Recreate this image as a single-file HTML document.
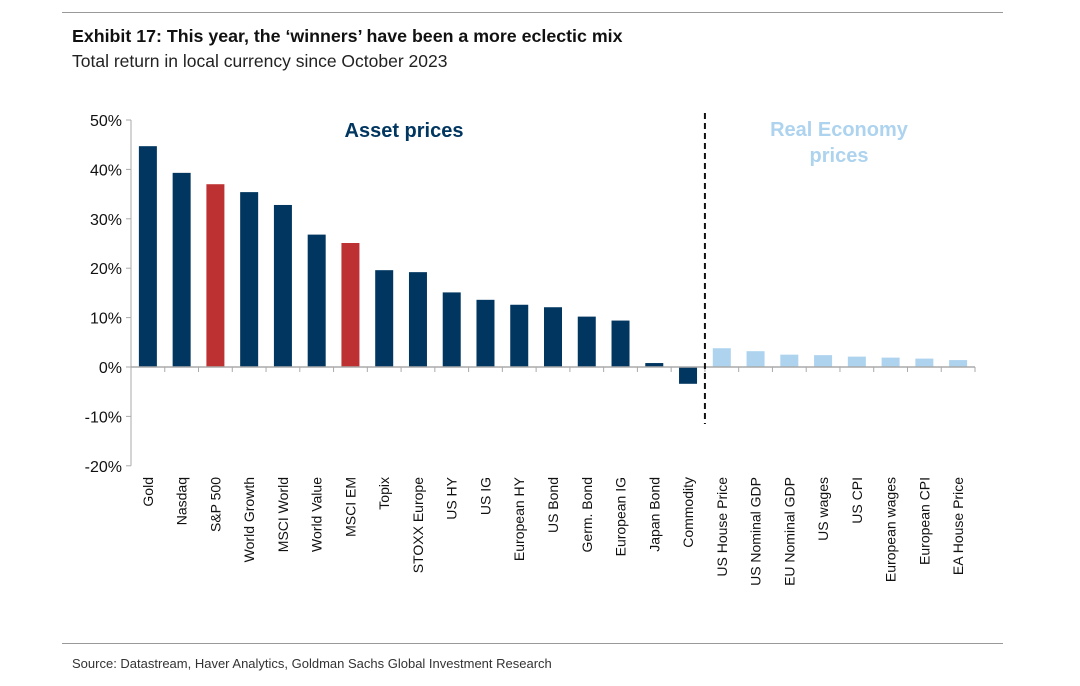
<!DOCTYPE html>
<html><head><meta charset="utf-8"><style>
body{margin:0;background:#fff;font-family:"Liberation Sans",Arial,sans-serif;}
#wrap{position:relative;width:1080px;height:686px;overflow:hidden;}
.t{position:absolute;white-space:nowrap;}
</style></head><body>
<div id="wrap">
<div class="t" style="left:62px;top:12px;width:941px;height:1px;background:#999;"></div>
<div class="t" style="left:72px;top:26px;font-size:17.8px;font-weight:bold;color:#111;">Exhibit 17: This year, the ‘winners’ have been a more eclectic mix</div>
<div class="t" style="left:72px;top:51px;font-size:17.5px;color:#222;">Total return in local currency since October 2023</div>
<svg id="chart" width="1080" height="640" style="position:absolute;left:0;top:0;"></svg>
<div class="t" style="left:62px;top:643px;width:941px;height:1px;background:#999;"></div>
<div class="t" style="left:72px;top:656px;font-size:13px;color:#333;">Source: Datastream, Haver Analytics, Goldman Sachs Global Investment Research</div>
</div>
<script>
const categories=["Gold","Nasdaq","S&P 500","World Growth","MSCI World","World Value","MSCI EM","Topix","STOXX Europe","US HY","US IG","European HY","US Bond","Germ. Bond","European IG","Japan Bond","Commodity","US House Price","US Nominal GDP","EU Nominal GDP","US wages","US CPI","European wages","European CPI","EA House Price"];
const values=[44.7,39.3,37.0,35.4,32.8,26.8,25.1,19.6,19.2,15.1,13.6,12.6,12.1,10.2,9.4,0.8,-3.4,3.8,3.2,2.5,2.4,2.1,1.9,1.7,1.4];
const groups=["a","a","h","a","a","a","h","a","a","a","a","a","a","a","a","a","a","r","r","r","r","r","r","r","r"];
const yTicks=[50,40,30,20,10,0,-10,-20];
const NS="http://www.w3.org/2000/svg";
const svg=document.getElementById('chart');
const x0=131,x1=975,y0v=367,pxPer=4.94;
const step=(x1-x0)/categories.length;
const y=v=>y0v-v*pxPer;
const xc=i=>x0+step*(i+0.5);
const colors={a:"#003660",h:"#be3132",r:"#add3ef"};
function mk(t,a){const e=document.createElementNS(NS,t);for(const k in a)e.setAttribute(k,a[k]);svg.appendChild(e);return e;}
let e;
e=mk('line',{x1:x0,x2:x0,y1:y(50),y2:y(-20),stroke:'#aaa','stroke-width':1});


yTicks.forEach(t=>{
 e=mk('line',{x1:x0-5,x2:x0,y1:y(t),y2:y(t),stroke:'#aaa'});
 
 
 e=mk('text',{x:x0-9,y:y(t)+6,'text-anchor':'end','font-size':16,fill:'#111','font-family':'Liberation Sans, sans-serif'});
 e.textContent=t+'%';
 
 
});
values.forEach((v,i)=>{
 const top=Math.min(y(v),y(0)),h=Math.abs(y(v)-y(0));
 e=mk('rect',{x:xc(i)-9,y:top,width:18,height:h,fill:colors[groups[i]]});
 
 
 e=mk('text',{transform:`translate(${xc(i)+5},477) rotate(-90)`,'text-anchor':'end','font-size':14,fill:'#111','font-family':'Liberation Sans, sans-serif'});
 e.textContent=categories[i];
 
 
});
e=mk('line',{x1:x0,x2:x1,y1:y(0),y2:y(0),stroke:'#aaa','stroke-width':1.5});


for(let i=1;i<=categories.length;i++){
 e=mk('line',{x1:x0+step*i,x2:x0+step*i,y1:y(0),y2:y(0)+5,stroke:'#aaa'});
 
 
}
e=mk('line',{x1:x0+step*17,x2:x0+step*17,y1:113,y2:424,stroke:'#111','stroke-width':2,'stroke-dasharray':'6,4'});


e=mk('text',{x:404,y:137,'text-anchor':'middle','font-size':20,'font-weight':'bold',fill:'#003660','font-family':'Liberation Sans, sans-serif'});
e.textContent='Asset prices';


e=mk('text',{x:839,y:136,'text-anchor':'middle','font-size':20,'font-weight':'bold',fill:'#add3ef','font-family':'Liberation Sans, sans-serif'});
e.textContent='Real Economy';


e=mk('text',{x:839,y:162,'text-anchor':'middle','font-size':20,'font-weight':'bold',fill:'#add3ef','font-family':'Liberation Sans, sans-serif'});
e.textContent='prices';


</script>
</body></html>
